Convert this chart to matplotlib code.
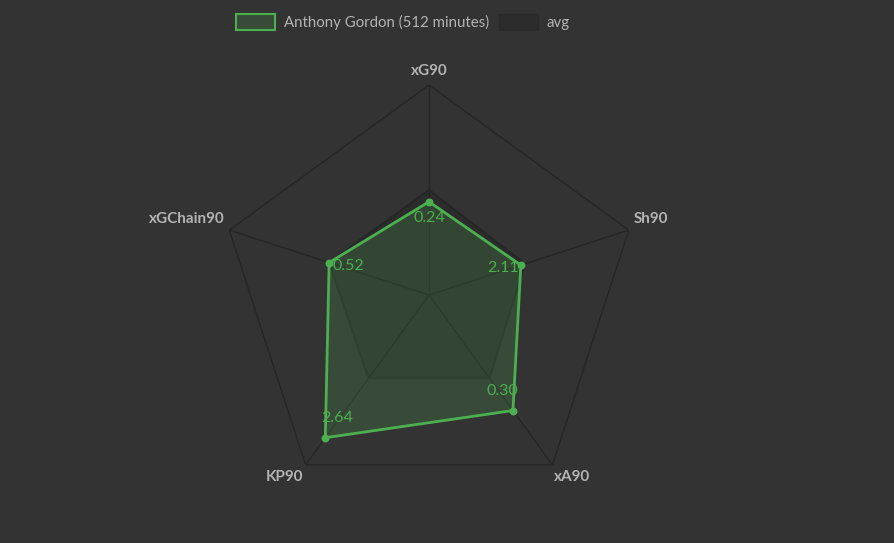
import numpy as np
import matplotlib
matplotlib.use("Agg")
import matplotlib.pyplot as plt
from matplotlib.patches import Patch

categories = ["xG90", "Sh90", "xA90", "KP90", "xGChain90"]
player_raw = ["0.24", "2.11", "0.30", "2.64", "0.52"]
player_norm = [0.444, 0.46, 0.68, 0.84, 0.50]
avg_norm = [0.50, 0.48, 0.49, 0.49, 0.50]
player_name = "Anthony Gordon (512 minutes)"

BG = "#333333"
GREEN = "#4caf50"
GRID = "#262626"
LABEL = "#b3b3b3"
FONT = ["Lato", "DejaVu Sans"]

W, H = 895, 543
fig = plt.figure(figsize=(W / 100, H / 100), dpi=100, facecolor=BG)
cx, cy, R = 429, 295, 210
ax = fig.add_axes([(cx - R) / W, (H - cy - R) / H, 2 * R / W, 2 * R / H], projection="polar")
ax.set_facecolor(BG)
ax.patch.set_alpha(0)
ax.set_theta_offset(np.pi / 2)
ax.set_theta_direction(-1)
ax.set_ylim(0, 1)
ax.grid(False)
ax.set_xticks([])
ax.set_yticks([])
ax.spines["polar"].set_visible(False)

n = len(categories)
theta = np.linspace(0, 2 * np.pi, n, endpoint=False)
tc = np.append(theta, theta[0])

# grid: outer pentagon + spokes
ax.plot(tc, np.ones(n + 1), color=GRID, lw=1.0, zorder=1)
for t in theta:
    ax.plot([t, t], [0, 1], color=GRID, lw=1.0, zorder=1)

# avg
av = np.append(avg_norm, avg_norm[0])
ax.fill(tc, av, color="black", alpha=0.12, zorder=2, lw=0)
ax.plot(tc, av, color="#262626", lw=1.5, zorder=2)

# player
pv = np.append(player_norm, player_norm[0])
ax.fill(tc, pv, color=GREEN, alpha=0.2, zorder=3, lw=0)
ax.plot(tc, pv, color=GREEN, lw=2, zorder=4)
ax.scatter(theta, player_norm, color=GREEN, s=22, zorder=5)

# axis labels
lab_off = [(0, 14, "center"), (5, 11, "left"), (20, -12, "center"), (-21, -12, "center"), (-5, 11, "right")]
for t, c, (dx, dy, ha) in zip(theta, categories, lab_off):
    ax.annotate(c, xy=(t, 1), xytext=(dx, dy), textcoords="offset pixels",
                ha=ha, va="center", color=LABEL, fontsize=11, fontweight="bold",
                family=FONT, annotation_clip=False)

# value labels
val_off = [(0, -16), (-18, -3), (-11, 20), (12, 20), (19, -3)]
for t, r, s, (dx, dy) in zip(theta, player_norm, player_raw, val_off):
    ax.annotate(s, xy=(t, r), xytext=(dx, dy), textcoords="offset pixels",
                ha="center", va="center", color=GREEN, fontsize=11.5,
                family=FONT, annotation_clip=False)

handles = [Patch(facecolor=(76/255, 175/255, 80/255, 0.2), edgecolor=GREEN, lw=1.5),
           Patch(facecolor=(0, 0, 0, 0.12), edgecolor="#2a2a2a", lw=1)]
leg = fig.legend(handles, [player_name, "avg"], loc="center", bbox_to_anchor=(403 / W, 1 - 22 / H),
                 ncol=2, frameon=False, handlelength=2.6, handleheight=1.2,
                 columnspacing=0.7, handletextpad=0.55,
                 prop={"family": FONT, "size": 10.8})
for t in leg.get_texts():
    t.set_color(LABEL)

fig.savefig("out.png", dpi=100, facecolor=BG)
